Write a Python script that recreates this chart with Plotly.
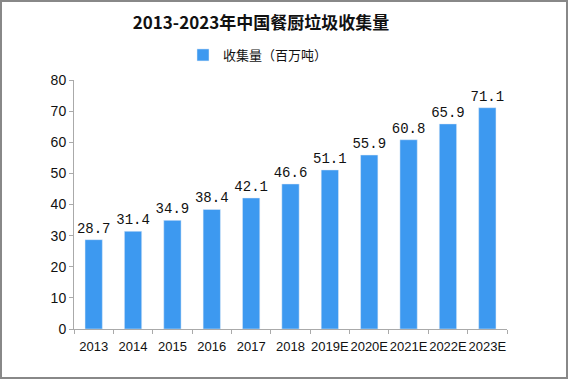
import plotly.graph_objects as go

categories = ["2013", "2014", "2015", "2016", "2017", "2018", "2019E", "2020E", "2021E", "2022E", "2023E"]
values = [28.7, 31.4, 34.9, 38.4, 42.1, 46.6, 51.1, 55.9, 60.8, 65.9, 71.1]
labels = ["28.7", "31.4", "34.9", "38.4", "42.1", "46.6", "51.1", "55.9", "60.8", "65.9", "71.1"]
series_name = "收集量（百万吨）"
title = "2013-2023年中国餐厨垃圾收集量"

fig = go.Figure()
fig.add_trace(go.Bar(
    x=categories, y=values, name=series_name,
    marker=dict(color="#3d99f0"),
    width=0.44,
    text=labels, textposition="outside", constraintext="none",
    textfont=dict(size=14, color="#111", family="Liberation Mono"),
    cliponaxis=False,
))

fig.update_layout(
    width=568, height=379,
    paper_bgcolor="white", plot_bgcolor="white",
    margin=dict(l=74, r=61, t=80, b=50),
    title=dict(text=title, x=(261 - 74) / 433, xref="paper", xanchor="center",
               y=1 - 23 / 379, yref="container", yanchor="middle",
               font=dict(size=17, color="#111", family="Noto Sans CJK SC", weight="bold")),
    showlegend=True,
    legend=dict(orientation="h", x=(258 - 74) / 433, xanchor="center", y=1 + 25 / 249, yanchor="middle",
                font=dict(size=13, color="#111", family="Noto Sans CJK SC"),
                itemwidth=30, bgcolor="rgba(0,0,0,0)"),
    font=dict(family="Liberation Sans", color="#111"),
    shapes=[dict(type="rect", xref="paper", yref="paper", x0=-73/433, x1=1+60/433,
                 y0=-49/249, y1=1+79/249, line=dict(color="#888", width=2))],
)
fig.update_yaxes(range=[0, 80], dtick=10, showgrid=False, showline=True, linecolor="#aaa",
                 ticks="outside", ticklen=4, tickcolor="#aaa",
                 tickfont=dict(size=14, color="#111"))
fig.update_xaxes(showgrid=False, showline=True, linecolor="#aaa", tickangle=0,
                 ticks="outside", ticklen=4, tickcolor="#aaa", tickson="boundaries",
                 ticklabelstandoff=5,
                 tickfont=dict(size=13, color="#111"))

fig.write_html("out.html", config={"displayModeBar": False},
               post_script="document.body.style.margin='0';")
